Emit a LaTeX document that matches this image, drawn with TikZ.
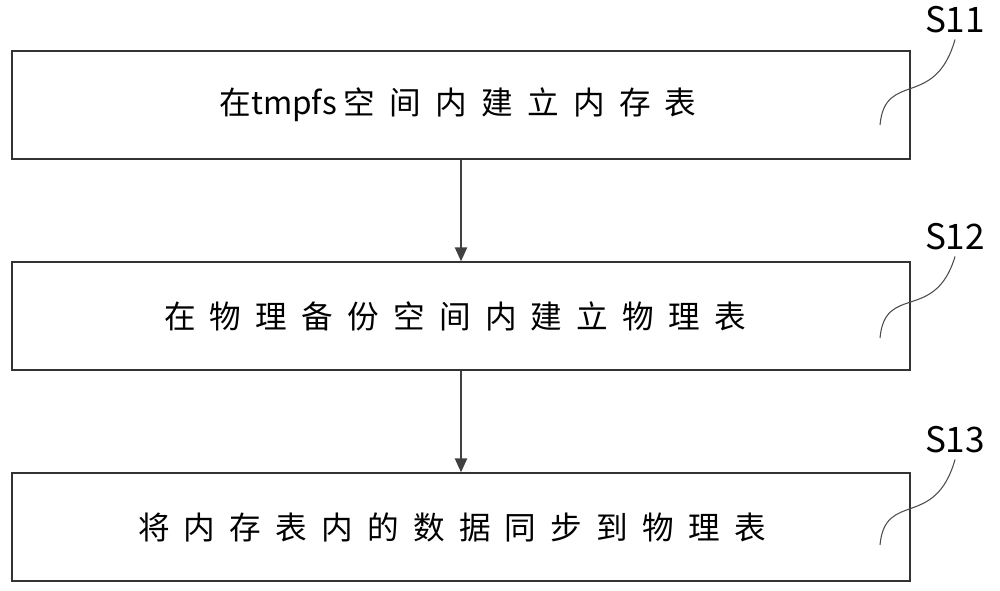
\documentclass[tikz,border=0pt]{standalone}
\usepackage{fontspec}
\newfontfamily\cjk[LetterSpace=45]{Noto Sans CJK SC}
\newfontfamily\labf{Noto Sans CJK SC}
\usetikzlibrary{arrows.meta}
\begin{document}
\begin{tikzpicture}[x=0.02cm,y=-0.02cm,
  box/.style={draw=black!80,line width=0.8pt,minimum width=17.96cm,minimum height=2.16cm,inner sep=0pt},
  txt/.style={font=\cjk\fontsize{18}{20}\selectfont},
  lab/.style={font=\labf\fontsize{20}{22}\selectfont},
  arr/.style={-{Triangle[length=8pt,width=7pt]},line width=1pt,draw=black!75},
  wave/.style={line width=0.6pt,draw=black!70}]
\useasboundingbox (0,0) rectangle (1000,591);
\node[box] (b1) at (461,105) {};
\node[box] (b2) at (461,316) {};
\node[box] (b3) at (461,527) {};
\node[txt] (t1) at (458,105) {在{\labf tmpfs}\hspace{4pt}空间内建立内存表};
\node[txt] (t2) at (455,316) {在物理备份空间内建立物理表};
\node[txt] (t3) at (452,527) {将内存表内的数据同步到物理表};
\draw[arr] (b1.south) -- (b2.north);
\draw[arr] (b2.south) -- (b3.north);
\node[lab] (l1) at (955,20) {S11};
\node[lab] (l2) at (955,237) {S12};
\node[lab] (l3) at (955,440) {S13};
\coordinate (w1) at (880,125);
\coordinate (w2) at (880,338);
\coordinate (w3) at (880,545);
\draw[wave] (w1) .. controls (885,70) and (935,110) .. (l1.south);
\draw[wave] (w2) .. controls (885,283) and (935,323) .. (l2.south);
\draw[wave] (w3) .. controls (885,490) and (935,530) .. (l3.south);
\end{tikzpicture}
\end{document}
